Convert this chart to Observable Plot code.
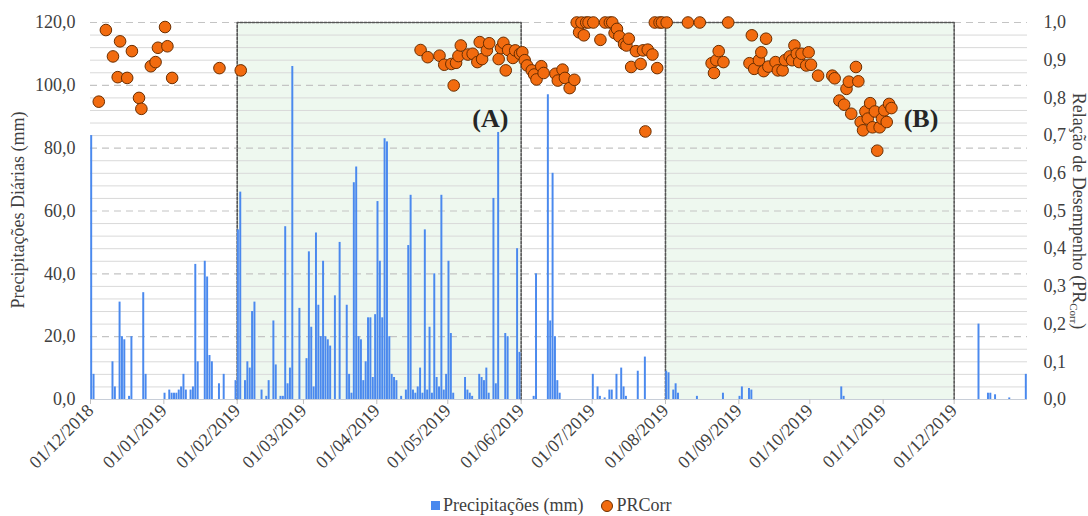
<!DOCTYPE html>
<html><head><meta charset="utf-8">
<script src="https://cdn.jsdelivr.net/npm/d3@7"></script>
<script src="https://cdn.jsdelivr.net/npm/@observablehq/plot@0.6"></script>
<style>
body{margin:0;background:#fff;font-family:"Liberation Serif",Tinos,"Times New Roman","DejaVu Serif",serif;}
#wrap{position:relative;width:1088px;height:516px;overflow:hidden;}
#legend{position:absolute;left:431px;top:495px;font-size:18px;color:#404040;display:flex;align-items:center;white-space:nowrap;}
#legend .sq{display:inline-block;width:9px;height:9px;background:#4a89ee;margin-right:3px;}
#legend .ci{display:inline-block;width:10px;height:10px;border-radius:50%;background:#f26b0f;border:1px solid #6b2e00;margin-left:18px;margin-right:3px;}
svg text{font-family:"Liberation Serif",Tinos,"Times New Roman","DejaVu Serif",serif;}
</style></head><body>
<div id="wrap"><div id="chart"></div>
<div id="legend"><span class="sq"></span><span>Precipitações (mm)</span><span class="ci"></span><span>PRCorr</span></div></div>
<script>
const precipDates = [
"2018-12-01","2018-12-02","2018-12-10","2018-12-11","2018-12-13","2018-12-14","2018-12-15","2018-12-17","2018-12-18","2018-12-23","2018-12-24",
"2019-01-01","2019-01-03","2019-01-04","2019-01-05","2019-01-06","2019-01-07","2019-01-08","2019-01-09","2019-01-10","2019-01-12","2019-01-13","2019-01-14","2019-01-15","2019-01-18","2019-01-19","2019-01-20","2019-01-21","2019-01-24","2019-01-26","2019-01-31",
"2019-02-01","2019-02-02","2019-02-04","2019-02-05","2019-02-06","2019-02-07","2019-02-08","2019-02-11","2019-02-13","2019-02-14","2019-02-16","2019-02-17","2019-02-19","2019-02-20","2019-02-21","2019-02-22","2019-02-23","2019-02-24","2019-02-27",
"2019-03-02","2019-03-03","2019-03-04","2019-03-05","2019-03-06","2019-03-07","2019-03-08","2019-03-09","2019-03-10","2019-03-11","2019-03-12","2019-03-14","2019-03-16","2019-03-19","2019-03-20","2019-03-21","2019-03-22","2019-03-23","2019-03-24","2019-03-25","2019-03-26","2019-03-27","2019-03-28","2019-03-29","2019-03-30","2019-03-31",
"2019-04-01","2019-04-02","2019-04-03","2019-04-04","2019-04-05","2019-04-06","2019-04-07","2019-04-08","2019-04-09","2019-04-11","2019-04-13","2019-04-14","2019-04-15","2019-04-16","2019-04-17","2019-04-18","2019-04-19","2019-04-20","2019-04-21","2019-04-22","2019-04-23","2019-04-24","2019-04-25","2019-04-26","2019-04-27","2019-04-28","2019-04-29","2019-04-30",
"2019-05-01","2019-05-02","2019-05-03","2019-05-08","2019-05-09","2019-05-10","2019-05-11","2019-05-14","2019-05-15","2019-05-16","2019-05-17","2019-05-18","2019-05-20","2019-05-21","2019-05-22","2019-05-25","2019-05-26","2019-05-30","2019-05-31",
"2019-06-06","2019-06-07","2019-06-12","2019-06-13","2019-06-14","2019-06-15","2019-06-16","2019-06-17",
"2019-07-01","2019-07-03","2019-07-04","2019-07-06","2019-07-08","2019-07-09","2019-07-11","2019-07-13","2019-07-14","2019-07-15","2019-07-20","2019-07-23",
"2019-08-01","2019-08-02","2019-08-04","2019-08-05","2019-08-06","2019-08-14","2019-08-25",
"2019-09-01","2019-09-02","2019-09-05","2019-09-06",
"2019-10-14","2019-10-15",
"2019-12-11","2019-12-15","2019-12-16","2019-12-18","2019-12-24","2019-12-31"
];
const precipValues = [
84,8,12,4,31,20,19,1,20,34,8,
2,3,2,2,2,3,4,8,3,3,4,43,12,44,39,14,12,5,8,6,
54,66,6,12,10,28,31,3,1,6,25,11,1,1,55,5,10,106,29,
13,47,23,4,53,30,20,44,20,19,17,33,50,30,8,2,69,74,20,19,6,12,26,26,7,27,
63,44,26,83,82,20,8,7,6,1,3,49,65,3,2,4,10,2,54,3,23,2,40,7,4,65,3,8,
44,21,2,7,3,2,1,8,7,6,10,2,64,5,85,21,20,48,15,
1,40,97,25,72,20,6,2,
8,4,1,0.5,3,3,8,10,4,1,9,13.5,
9,8.5,3,5,2,1,2,
1,4,3.5,3,
4,1,
24,2,2,1.5,0.5,8
];
const prDates = [
"2018-12-04","2018-12-07","2018-12-10","2018-12-12","2018-12-13","2018-12-16","2018-12-18","2018-12-21","2018-12-22","2018-12-26","2018-12-28","2018-12-29","2019-01-01","2019-01-02","2019-01-04","2019-01-24","2019-02-02",
"2019-04-19","2019-04-22","2019-04-27","2019-04-29","2019-05-02","2019-05-03","2019-05-04","2019-05-05","2019-05-06","2019-05-09","2019-05-11","2019-05-13","2019-05-14","2019-05-15","2019-05-17","2019-05-18","2019-05-22","2019-05-23","2019-05-24","2019-05-25","2019-05-26","2019-05-28","2019-05-29","2019-05-31",
"2019-06-01","2019-06-02","2019-06-03","2019-06-05","2019-06-06","2019-06-07","2019-06-09","2019-06-10","2019-06-15","2019-06-16","2019-06-18","2019-06-19","2019-06-21","2019-06-23","2019-06-24","2019-06-25","2019-06-26","2019-06-27","2019-06-28","2019-06-29","2019-07-01",
"2019-07-04","2019-07-06","2019-07-08","2019-07-09","2019-07-10","2019-07-11","2019-07-12","2019-07-14","2019-07-15","2019-07-16","2019-07-17","2019-07-19","2019-07-21","2019-07-22","2019-07-23","2019-07-24","2019-07-26","2019-07-27","2019-07-28","2019-07-29","2019-07-30","2019-08-01",
"2019-08-10","2019-08-15","2019-08-20","2019-08-21","2019-08-22","2019-08-23","2019-08-25","2019-08-27",
"2019-09-05","2019-09-06","2019-09-07","2019-09-09","2019-09-10","2019-09-11","2019-09-12","2019-09-13","2019-09-16","2019-09-17","2019-09-19","2019-09-20","2019-09-22","2019-09-23","2019-09-24","2019-09-25","2019-09-26","2019-09-27","2019-09-29","2019-09-30",
"2019-10-01","2019-10-04","2019-10-10","2019-10-11","2019-10-13","2019-10-15","2019-10-16","2019-10-17","2019-10-18","2019-10-20","2019-10-21","2019-10-22","2019-10-23","2019-10-24","2019-10-25","2019-10-26","2019-10-27","2019-10-28","2019-10-29","2019-10-30","2019-10-31","2019-11-01","2019-11-02","2019-11-03","2019-11-04"
];
const prValues = [
0.79,0.98,0.91,0.855,0.95,0.853,0.924,0.80,0.771,0.884,0.895,0.933,0.988,0.937,0.853,0.879,0.873,
0.927,0.908,0.912,0.888,0.89,0.833,0.893,0.911,0.939,0.915,0.917,0.895,0.948,0.903,0.926,0.945,0.903,0.932,0.946,0.873,0.927,0.906,0.926,0.917,
0.921,0.90,0.886,0.873,0.862,0.849,0.884,0.866,0.864,0.846,0.875,0.853,0.826,0.848,1.0,0.974,1.0,0.966,1.0,1.0,1.0,
0.954,1.0,1.0,1.0,0.972,0.983,0.963,0.943,0.939,0.957,0.882,0.924,0.89,0.926,0.711,0.928,0.915,1.0,0.879,1.0,1.0,1.0,
1.0,1.0,0.892,0.866,0.90,0.924,0.895,1.0,
0.892,0.966,0.877,0.90,0.921,0.871,0.957,0.883,0.895,0.873,0.873,0.90,0.91,0.90,0.939,0.917,0.895,0.917,0.886,0.921,
0.888,0.859,0.859,0.852,0.793,0.782,0.824,0.843,0.758,0.882,0.844,0.736,0.714,0.764,0.745,0.786,0.722,0.764,0.66,0.722,0.745,0.767,0.736,0.784,0.773
];
const leftTicks = [0,20,40,60,80,100,120];
const rightTicks = [0,0.1,0.2,0.3,0.4,0.5,0.6,0.7,0.8,0.9,1.0];
const regionStarts = ["2019-02-01","2019-08-01"];
const regionEnds = ["2019-06-01","2019-12-01"];
const regionLabels = ["(A)","(B)"];
const regionLabelDates = ["2019-05-19","2019-11-17"];
const regionLabelLevels = [89.5, 89.5];
const xStart = "2018-12-01", xEnd = "2020-01-01";
const tickMonthStart = "2018-12-01", tickMonthEnd = "2019-12-02";

const FONT = '"Liberation Serif",Tinos,"Times New Roman","DejaVu Serif",serif';
const P = d => new Date(d + "T00:00:00Z");
const Y_MAX = 120;
const bars = precipDates.map((d,i) => ({x1: P(d), x2: d3.utcDay.offset(P(d),1), v: precipValues[i]}));
const pts = prDates.map((d,i) => ({x: d3.utcHour.offset(P(d),12), v: prValues[i]}));
const regions = regionStarts.map((s,i) => ({x1: P(s), x2: P(regionEnds[i])}));
const border = regions.flatMap((r,i) => [
  {id:i, x:r.x1, y:0},{id:i, x:r.x1, y:Y_MAX},{id:i, x:r.x2, y:Y_MAX},{id:i, x:r.x2, y:0}]);
const labels = regionLabels.map((t,i) => ({t, x:P(regionLabelDates[i]), y:regionLabelLevels[i]}));
const minor = d3.range(4, Y_MAX+1, 4).filter(v => v % 20 !== 0);
const major = leftTicks.filter(v => v > 0);
const months = d3.utcMonths(P(tickMonthStart), P(tickMonthEnd));
const comma = (v,n) => v.toFixed(n).replace(".", ",");

const chart = Plot.plot({
  width: 1088, height: 490,
  marginLeft: 90, marginRight: 61, marginTop: 22, marginBottom: 91,
  style: {fontFamily: FONT, fontSize: "18px", color: "#404040", background: "#fff"},
  x: {type: "utc", domain: [P(xStart), P(xEnd)]},
  y: {domain: [0, Y_MAX]},
  marks: [
    Plot.rect(regions, {x1:"x1", x2:"x2", y1:0, y2:Y_MAX, fill:"#eef8ef"}),
    Plot.ruleY(minor, {stroke:"#d9d9d9", strokeWidth:1}),
    Plot.ruleY(major, {stroke:"#c4c4c4", strokeWidth:1.2, strokeDasharray:"7,5"}),
    Plot.ruleY([0], {stroke:"#c8ced8", strokeWidth:1.2}),
    Plot.line(border, {x:"x", y:"y", z:"id", stroke:"#555", strokeWidth:1.6, strokeDasharray:"2.5,1.5"}),
    Plot.rectY(bars, {x1:"x1", x2:"x2", y:"v", fill:"#4a89ee", insetLeft:0.2, insetRight:0.2, ariaLabel:"bars"}),
    Plot.dot(pts, {x:"x", y: d => d.v * Y_MAX, r:5.8, fill:"#f26b0f", stroke:"#6b2e00", strokeWidth:1, ariaLabel:"prdots"}),
    Plot.text(labels, {x:"x", y:"y", text:"t", fontSize:26, fontWeight:"bold", fill:"#262626", textAnchor:"middle", lineAnchor:"middle"}),
    Plot.axisY(leftTicks, {anchor:"left", tickSize:0, tickPadding:15, tickFormat: v => comma(v,1), label:null, fill:"#404040"}),
    Plot.axisY(rightTicks.map(v => v * Y_MAX), {anchor:"right", tickSize:0, tickPadding:16, tickFormat: v => comma(v / Y_MAX,1), label:null, fill:"#404040"}),
    Plot.axisX(months, {anchor:"bottom", tickSize:5, tickPadding:3, tickRotate:-45, tickFormat: d3.utcFormat("%d/%m/%Y"), label:null, stroke:"#bfbfbf", fill:"#404040"})
  ]
});
document.getElementById("chart").appendChild(chart);

const svg = d3.select(chart.tagName.toLowerCase() === "svg" ? chart : chart.querySelector("svg"));
const defs = svg.insert("defs", ":first-child");
const f = defs.append("filter").attr("id","sh").attr("x","-50%").attr("y","-50%").attr("width","200%").attr("height","200%");
f.append("feDropShadow").attr("dx",1.8).attr("dy",1.6).attr("stdDeviation",1.3).attr("flood-color","#000").attr("flood-opacity",0.4);
svg.selectAll('g[aria-label="bars"], g[aria-label="prdots"]').attr("filter","url(#sh)");

svg.append("text")
  .attr("transform", "translate(20,210) rotate(-90)")
  .attr("text-anchor","middle").attr("dominant-baseline","middle")
  .attr("fill","#404040").style("font-size","18px").style("font-family", FONT)
  .text("Precipitações Diárias (mm)");
const rt = svg.append("text")
  .attr("transform", "translate(1077,211) rotate(90)")
  .attr("text-anchor","middle").attr("dominant-baseline","middle")
  .attr("fill","#404040").style("font-size","18px").style("font-family", FONT);
rt.append("tspan").text("Relação de Desempenho (PR");
rt.append("tspan").attr("font-size","11px").attr("dy","4").text("Corr");
rt.append("tspan").attr("dy","-4").text(")");
</script>
</body></html>
